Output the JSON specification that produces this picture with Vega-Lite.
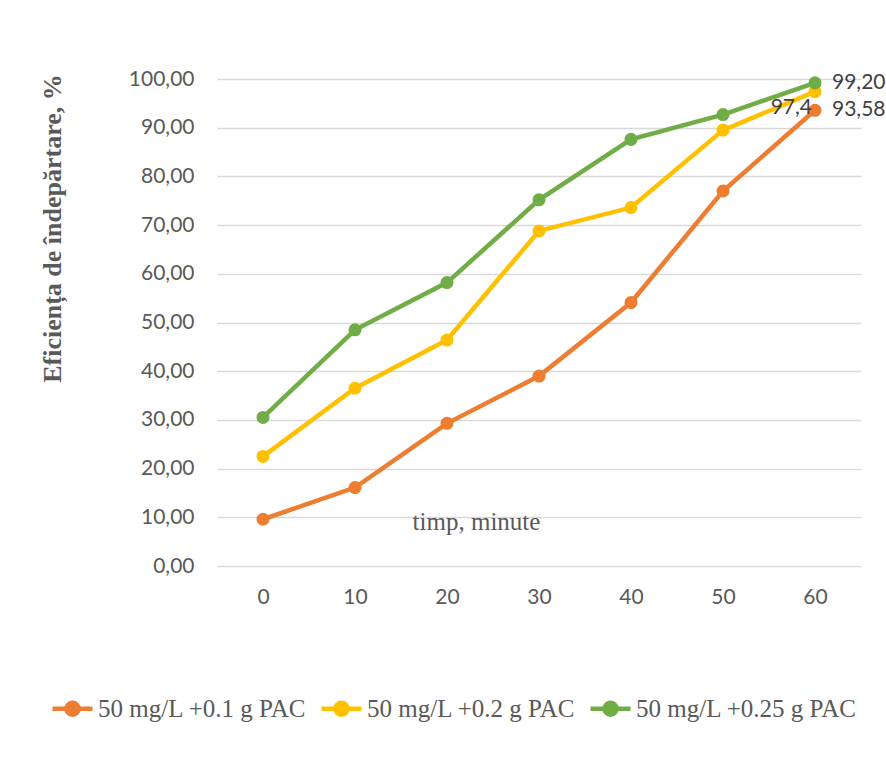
{
  "$schema": "https://vega.github.io/schema/vega-lite/v6.json",
  "width": 644,
  "height": 487,
  "autosize": {"type": "none"},
  "padding": {"left": 217, "top": 79, "right": 25, "bottom": 212},
  "background": "white",
  "config": {
    "locale": {"number": {"decimal": ",", "thousands": ".", "grouping": [3], "currency": ["", ""]}},
    "view": {"stroke": null},
    "axis": {
      "labelFont": "Lato",
      "labelFontSize": 21,
      "labelColor": "#595959",
      "ticks": false,
      "domain": false,
      "titleColor": "#595959"
    }
  },
  "data": {
    "values": [
      {"t": 0, "series": "50 mg/L +0.1 g PAC", "eff": 9.6},
      {"t": 10, "series": "50 mg/L +0.1 g PAC", "eff": 16.1},
      {"t": 20, "series": "50 mg/L +0.1 g PAC", "eff": 29.3},
      {"t": 30, "series": "50 mg/L +0.1 g PAC", "eff": 39.0},
      {"t": 40, "series": "50 mg/L +0.1 g PAC", "eff": 54.1},
      {"t": 50, "series": "50 mg/L +0.1 g PAC", "eff": 77.0},
      {"t": 60, "series": "50 mg/L +0.1 g PAC", "eff": 93.58, "label": "93,58"},
      {"t": 0, "series": "50 mg/L +0.2 g PAC", "eff": 22.5},
      {"t": 10, "series": "50 mg/L +0.2 g PAC", "eff": 36.5},
      {"t": 20, "series": "50 mg/L +0.2 g PAC", "eff": 46.4},
      {"t": 30, "series": "50 mg/L +0.2 g PAC", "eff": 68.8},
      {"t": 40, "series": "50 mg/L +0.2 g PAC", "eff": 73.6},
      {"t": 50, "series": "50 mg/L +0.2 g PAC", "eff": 89.5},
      {"t": 60, "series": "50 mg/L +0.2 g PAC", "eff": 97.4, "label": "97,4"},
      {"t": 0, "series": "50 mg/L +0.25 g PAC", "eff": 30.5},
      {"t": 10, "series": "50 mg/L +0.25 g PAC", "eff": 48.5},
      {"t": 20, "series": "50 mg/L +0.25 g PAC", "eff": 58.2},
      {"t": 30, "series": "50 mg/L +0.25 g PAC", "eff": 75.2},
      {"t": 40, "series": "50 mg/L +0.25 g PAC", "eff": 87.6},
      {"t": 50, "series": "50 mg/L +0.25 g PAC", "eff": 92.7},
      {"t": 60, "series": "50 mg/L +0.25 g PAC", "eff": 99.2, "label": "99,20"}
    ]
  },
  "encoding": {
    "x": {
      "field": "t",
      "type": "ordinal",
      "scale": {"padding": 0.5},
      "axis": {
        "labelAngle": 0,
        "labelPadding": 20,
        "grid": false,
        "title": "timp, minute",
        "titleFont": "Liberation Serif",
        "titleFontSize": 25,
        "titleFontWeight": "normal",
        "titleX": 259,
        "titleY": -45,
        "titleAlign": "center",
        "titleBaseline": "middle"
      }
    },
    "y": {
      "field": "eff",
      "type": "quantitative",
      "scale": {"domain": [0, 100], "nice": false},
      "axis": {
        "values": [0, 10, 20, 30, 40, 50, 60, 70, 80, 90, 100],
        "format": ".2f",
        "labelPadding": 23,
        "gridColor": "#d9d9d9",
        "gridWidth": 1.5,
        "title": "Eficiența de îndepărtare, %",
        "titleFont": "Liberation Serif",
        "titleFontSize": 26,
        "titleFontWeight": "bold",
        "titleX": -165,
        "titleY": 149,
        "titleAngle": -90,
        "titleAlign": "center",
        "titleBaseline": "middle"
      }
    },
    "color": {
      "field": "series",
      "type": "nominal",
      "scale": {
        "domain": ["50 mg/L +0.1 g PAC", "50 mg/L +0.2 g PAC", "50 mg/L +0.25 g PAC"],
        "range": ["#ED7D31", "#FFC000", "#70AD47"]
      },
      "legend": {
        "orient": "none",
        "legendX": -167,
        "legendY": 607,
        "direction": "horizontal",
        "title": null,
        "symbolType": "M-1,0H1M0.3,0A0.3,0.3,0,1,1,-0.3,0A0.3,0.3,0,1,1,0.3,0",
        "symbolSize": 1600,
        "symbolStrokeWidth": 4.5,
        "labelFont": "Liberation Serif",
        "labelFontSize": 25,
        "labelColor": "#595959",
        "labelOffset": 3,
        "columnPadding": 5,
        "labelLimit": 400,
        "encode": {
          "symbols": {
            "update": {
              "fill": {"scale": "color", "field": "value"},
              "stroke": {"scale": "color", "field": "value"},
              "fillOpacity": {"value": 1}
            }
          }
        }
      }
    }
  },
  "layer": [
    {"mark": {"type": "line", "strokeWidth": 4.5}},
    {"mark": {"type": "point", "filled": true, "size": 170, "opacity": 1}},
    {
      "transform": [{"filter": "datum.label != null && datum.series != '50 mg/L +0.2 g PAC'"}],
      "mark": {"type": "text", "align": "left", "baseline": "middle", "dx": 17, "font": "Lato", "fontSize": 21, "color": "#404040"},
      "encoding": {"text": {"field": "label"}, "color": {"value": "#404040"}}
    },
    {
      "transform": [{"filter": "datum.label != null && datum.series == '50 mg/L +0.2 g PAC'"}],
      "mark": {"type": "text", "align": "right", "baseline": "middle", "dx": -3, "dy": 16, "font": "Lato", "fontSize": 21, "color": "#404040"},
      "encoding": {"text": {"field": "label"}, "color": {"value": "#404040"}}
    }
  ]
}
